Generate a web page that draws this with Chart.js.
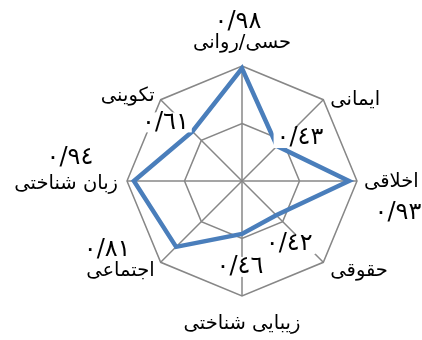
<!DOCTYPE html>
<html>
<head>
<meta charset="utf-8">
<script src="https://cdn.jsdelivr.net/npm/chart.js@4"></script>
<style>
  html, body { margin: 0; padding: 0; background: #fff; }
  #wrap { width: 422px; height: 340px; }
</style>
</head>
<body>
<div id="wrap"><canvas id="radar"></canvas></div>
<script>
const CATEGORIES = ['حسی/روانی', 'ایمانی', 'اخلاقی', 'حقوقی', 'زیبایی شناختی', 'اجتماعی', 'زبان شناختی', 'تکوینی'];
const VALUES = [0.98, 0.43, 0.93, 0.42, 0.46, 0.81, 0.94, 0.61];
const VALUE_TEXT = ['٠/٩٨', '٠/٤٣', '٠/٩٣', '٠/٤٢', '٠/٤٦', '٠/٨١', '٠/٩٤', '٠/٦١'];
const TICKS = [0, 0.5, 1];

const FONT = '"DejaVu Sans", Arial, sans-serif';

// category label nudges from the outer vertex, plus alignment
const CAT_SHIFT = [[0, -23], [7, 0], [7, 1], [7, 9], [0, 28], [-6, 9], [-9, 3], [-6, -4]];
const CAT_ALIGN = ['center', 'left', 'left', 'left', 'center', 'right', 'right', 'right'];
// value label nudges from the data point
const VAL_SHIFT = [[-4, -47], [23, -8], [49, 32], [13, 29], [-2, 33], [-69, 3], [-64, -23], [-27, -9]];

const labelsPlugin = {
  id: 'labelsPlugin',
  afterDraw(chart) {
    const ctx = chart.ctx;
    const r = chart.scales.r;
    ctx.save();
    ctx.textBaseline = 'middle';
    ctx.fillStyle = '#000';
    ctx.font = '19.5px ' + FONT;
    CATEGORIES.forEach((name, i) => {
      const p = r.getPointPosition(i, r.drawingArea);
      ctx.textAlign = CAT_ALIGN[i];
      ctx.fillText(name, p.x + CAT_SHIFT[i][0], p.y + CAT_SHIFT[i][1]);
    });
    ctx.font = '24px ' + FONT;
    ctx.textAlign = 'center';
    chart.getDatasetMeta(0).data.forEach((pt, i) => {
      const x = pt.x + VAL_SHIFT[i][0];
      const y = pt.y + VAL_SHIFT[i][1];
      const w = ctx.measureText(VALUE_TEXT[i]).width;
      ctx.fillStyle = '#fff';
      ctx.fillRect(x - w / 2 - 3, y - 10, w + 6, 20);
      ctx.fillStyle = '#000';
      ctx.fillText(VALUE_TEXT[i], x, y);
    });
    ctx.restore();
  }
};

new Chart(document.getElementById('radar'), {
  type: 'radar',
  data: {
    labels: CATEGORIES,
    datasets: [{
      data: VALUES,
      borderColor: '#4A7EBB',
      borderWidth: 4.5,
      fill: false,
      pointRadius: 0,
      tension: 0,
    }],
  },
  options: {
    responsive: true,
    maintainAspectRatio: false,
    animation: false,
    layout: { padding: { top: 66, bottom: 44, left: 127, right: 65 } },
    plugins: { legend: { display: false }, tooltip: { enabled: false } },
    scales: {
      r: {
        min: TICKS[0],
        max: TICKS[TICKS.length - 1],
        ticks: { display: false, stepSize: TICKS[1] - TICKS[0] },
        grid: { color: '#878787', lineWidth: 1.5 },
        angleLines: { color: '#878787', lineWidth: 1.5 },
        pointLabels: { display: false },
      },
    },
  },
  plugins: [labelsPlugin],
});
</script>
</body>
</html>
